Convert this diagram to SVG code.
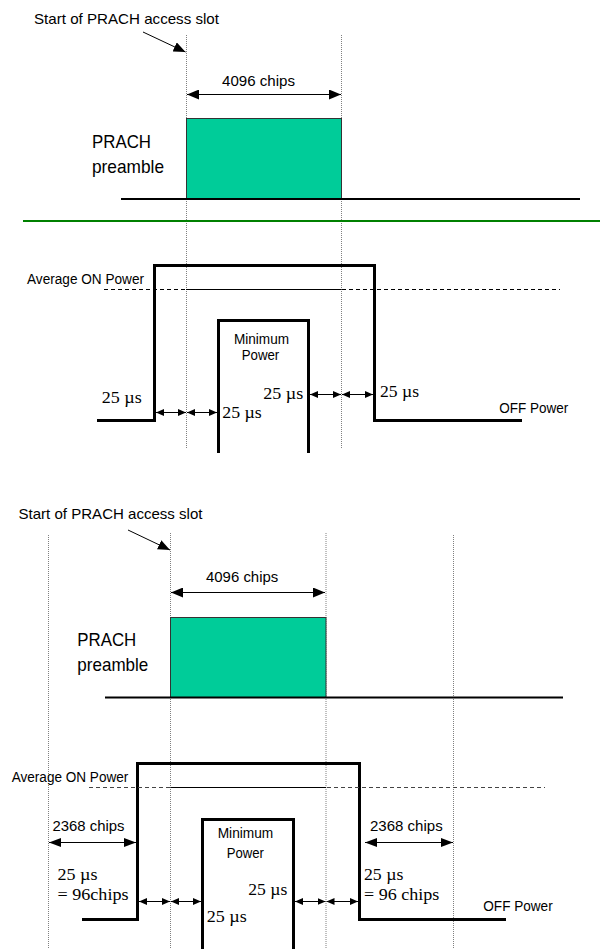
<svg xmlns="http://www.w3.org/2000/svg" width="600" height="949" viewBox="0 0 600 949">
<style>
.dot{stroke:#808080;stroke-width:1;stroke-dasharray:1 1;fill:none}
.thick{stroke:#000;stroke-width:3;fill:none;stroke-linejoin:miter}
.base{stroke:#000;stroke-width:2;fill:none}
.thin{stroke:#000;stroke-width:1;fill:none}
.dash{stroke:#000;stroke-width:1;stroke-dasharray:4 3;fill:none}
.dash2{stroke:#444;stroke-width:1;stroke-dasharray:4 3;fill:none}
.sans{font-family:"Liberation Sans",Arial,sans-serif;fill:#000}
.serif{font-family:"Liberation Serif","Times New Roman",serif;fill:#000}
.pre{fill:#00CC99;stroke:#333;stroke-width:1}
.big{marker-start:url(#ab);marker-end:url(#ab)}
.med{marker-start:url(#am);marker-end:url(#am)}
.sm{marker-start:url(#as);marker-end:url(#as)}
</style>
<defs>
<marker id="ab" markerUnits="userSpaceOnUse" markerWidth="12" markerHeight="10" refX="12" refY="5" orient="auto-start-reverse"><path d="M0,0 L12,5 L0,10 z" fill="#000"/></marker>
<marker id="am" markerUnits="userSpaceOnUse" markerWidth="12" markerHeight="9" refX="12" refY="4.5" orient="auto-start-reverse"><path d="M0,0 L12,4.5 L0,9 z" fill="#000"/></marker>
<marker id="as" markerUnits="userSpaceOnUse" markerWidth="8" markerHeight="7" refX="8" refY="3.5" orient="auto-start-reverse"><path d="M0,0 L8,3.5 L0,7 z" fill="#000"/></marker>
<marker id="ae" markerUnits="userSpaceOnUse" markerWidth="12" markerHeight="10" refX="12" refY="5" orient="auto"><path d="M0,0 L12,5 L0,10 z" fill="#000"/></marker>
</defs>

<!-- ===== Top panel ===== -->
<g id="top-guides">
<line class="dot" x1="186.5" y1="35" x2="186.5" y2="448"/>
<line class="dot" x1="341.5" y1="35" x2="341.5" y2="448"/>
</g>
<g id="top-title"><text class="sans" x="34" y="23.5" font-size="15" textLength="185" lengthAdjust="spacingAndGlyphs">Start of PRACH access slot</text></g>
<g id="top-preamble">
<rect class="pre" x="186.5" y="118.5" width="155" height="80"/>
<text class="sans" x="92" y="148" font-size="19" textLength="59" lengthAdjust="spacingAndGlyphs">PRACH</text>
<text class="sans" x="92" y="172.5" font-size="19" textLength="72" lengthAdjust="spacingAndGlyphs">preamble</text>
</g>
<g id="top-chips"><text class="sans" x="222" y="86" font-size="15" textLength="73" lengthAdjust="spacingAndGlyphs">4096 chips</text></g>
<line id="separator" x1="23" y1="221" x2="600" y2="221" stroke="#008000" stroke-width="2"/>
<g id="top-power">
<path class="thick" d="M97,420.5 H154.5 V265.5 H374.5 V420.5 H522"/>
<path class="thick" d="M218.5,453 V320.5 H308.5 V453"/>
<text class="sans" x="27" y="284" font-size="15.5" textLength="117" lengthAdjust="spacingAndGlyphs">Average ON Power</text>
<text class="sans" x="234" y="344" font-size="15.5" textLength="55" lengthAdjust="spacingAndGlyphs">Minimum</text>
<text class="sans" x="241.7" y="360" font-size="15.5" textLength="37.6" lengthAdjust="spacingAndGlyphs">Power</text>
<text class="sans" x="499.3" y="412.7" font-size="15.5" textLength="69" lengthAdjust="spacingAndGlyphs">OFF Power</text>
<text class="serif" x="101.7" y="403" font-size="17" textLength="40" lengthAdjust="spacingAndGlyphs">25 µs</text>
<text class="serif" x="222.3" y="418" font-size="17" textLength="39.5" lengthAdjust="spacingAndGlyphs">25 µs</text>
<text class="serif" x="263.3" y="398.5" font-size="17" textLength="40" lengthAdjust="spacingAndGlyphs">25 µs</text>
<text class="serif" x="380" y="397" font-size="17" textLength="39" lengthAdjust="spacingAndGlyphs">25 µs</text>
</g>
<g id="top-connectors">
<line class="base" x1="121" y1="199" x2="580" y2="199"/>
<line class="thin" x1="143" y1="32" x2="185.5" y2="52" marker-end="url(#ae)"/>
<line class="thin big" x1="187" y1="94.5" x2="341" y2="94.5"/>
<line class="dash" x1="104" y1="289.5" x2="186" y2="289.5"/>
<line class="thin" x1="186" y1="289.5" x2="341.5" y2="289.5"/>
<line class="dash" x1="342" y1="289.5" x2="560" y2="289.5"/>
<line class="thin sm" x1="156" y1="412.5" x2="186" y2="412.5"/>
<line class="thin sm" x1="187" y1="412.5" x2="217" y2="412.5"/>
<line class="thin sm" x1="310" y1="394.5" x2="341" y2="394.5"/>
<line class="thin sm" x1="342" y1="394.5" x2="373" y2="394.5"/>
</g>

<!-- ===== Bottom panel ===== -->
<g id="bot-guides">
<line class="dot" x1="48.5" y1="535" x2="48.5" y2="949"/>
<line class="dot" x1="170.5" y1="533" x2="170.5" y2="949"/>
<line class="dot" x1="326" y1="533" x2="326" y2="949"/>
<line class="dot" x1="453.5" y1="535" x2="453.5" y2="949"/>
</g>
<g id="bot-title"><text class="sans" x="18.5" y="518.5" font-size="15" textLength="184" lengthAdjust="spacingAndGlyphs">Start of PRACH access slot</text></g>
<g id="bot-preamble">
<rect class="pre" x="170.5" y="617.5" width="155.5" height="80"/>
<text class="sans" x="77.3" y="646" font-size="19" textLength="59" lengthAdjust="spacingAndGlyphs">PRACH</text>
<text class="sans" x="77.3" y="670.5" font-size="19" textLength="71" lengthAdjust="spacingAndGlyphs">preamble</text>
</g>
<g id="bot-chips"><text class="sans" x="206" y="581.7" font-size="15" textLength="72.3" lengthAdjust="spacingAndGlyphs">4096 chips</text></g>
<g id="bot-power">
<path class="thick" d="M82,919.5 H137.5 V763.5 H359.5 V919.5 H506"/>
<path class="thick" d="M202.5,949 V819.5 H293.5 V949"/>
<text class="sans" x="11.7" y="781.7" font-size="15.5" textLength="116.6" lengthAdjust="spacingAndGlyphs">Average ON Power</text>
<text class="sans" x="217.7" y="838.3" font-size="15.5" textLength="55.6" lengthAdjust="spacingAndGlyphs">Minimum</text>
<text class="sans" x="226.7" y="858.3" font-size="15.5" textLength="37.3" lengthAdjust="spacingAndGlyphs">Power</text>
<text class="sans" x="483.3" y="910.7" font-size="15.5" textLength="69.4" lengthAdjust="spacingAndGlyphs">OFF Power</text>
<text class="sans" x="52.5" y="830.5" font-size="15" textLength="72" lengthAdjust="spacingAndGlyphs">2368 chips</text>
<text class="sans" x="370" y="831" font-size="15" textLength="72.7" lengthAdjust="spacingAndGlyphs">2368 chips</text>
<text class="serif" x="57.5" y="880" font-size="17" textLength="40" lengthAdjust="spacingAndGlyphs">25 µs</text>
<text class="serif" x="57.5" y="900" font-size="17" textLength="71" lengthAdjust="spacingAndGlyphs">= 96chips</text>
<text class="serif" x="364" y="880" font-size="17" textLength="39.3" lengthAdjust="spacingAndGlyphs">25 µs</text>
<text class="serif" x="364" y="900" font-size="17" textLength="75.3" lengthAdjust="spacingAndGlyphs">= 96 chips</text>
<text class="serif" x="248.3" y="895" font-size="17" textLength="39" lengthAdjust="spacingAndGlyphs">25 µs</text>
<text class="serif" x="206.7" y="921.7" font-size="17" textLength="40" lengthAdjust="spacingAndGlyphs">25 µs</text>
</g>
<g id="bot-connectors">
<line class="base" x1="105" y1="697.5" x2="563" y2="697.5"/>
<line class="thin" x1="128" y1="530" x2="170" y2="550" marker-end="url(#ae)"/>
<line class="thin big" x1="171" y1="592.5" x2="325" y2="592.5"/>
<line class="dash2" x1="89" y1="787.5" x2="170.5" y2="787.5"/>
<line class="thin" x1="170.5" y1="787.5" x2="326" y2="787.5"/>
<line class="dash2" x1="327" y1="787.5" x2="545" y2="787.5"/>
<line class="thin med" x1="49" y1="842.5" x2="136" y2="842.5"/>
<line class="thin med" x1="365" y1="842.5" x2="453" y2="842.5"/>
<line class="thin sm" x1="139" y1="901.5" x2="170" y2="901.5"/>
<line class="thin sm" x1="171" y1="901.5" x2="201" y2="901.5"/>
<line class="thin sm" x1="295" y1="901.5" x2="325.5" y2="901.5"/>
<line class="thin sm" x1="326.5" y1="901.5" x2="358" y2="901.5"/>
</g>
</svg>
